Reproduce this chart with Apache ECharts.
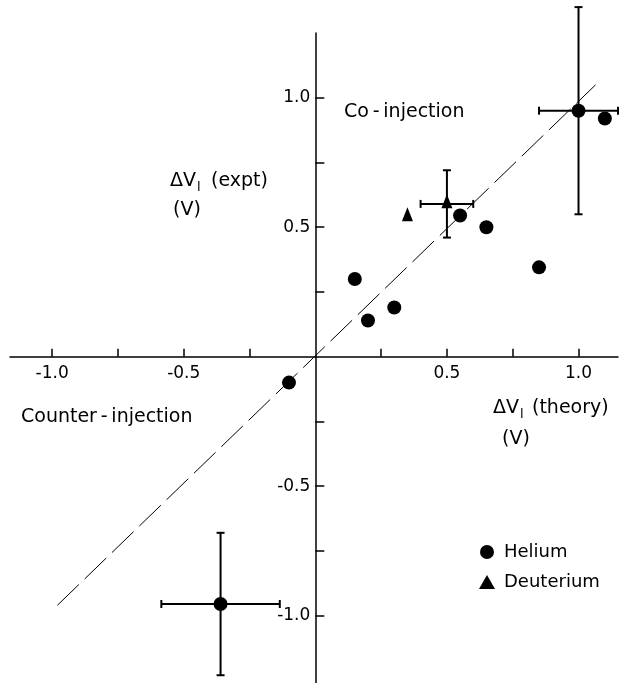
<!DOCTYPE html>
<html>
<head>
<meta charset="utf-8">
<script src="https://cdn.jsdelivr.net/npm/echarts@6/dist/echarts.min.js"></script>
<style>
  html, body { margin: 0; padding: 0; background: #fff; }
  #main { width: 625px; height: 683px; }
</style>
</head>
<body>
<div id="main"></div>
<script>
var chartDom = document.getElementById('main');
var myChart = echarts.init(chartDom);
var option;

// 数据
const heliumX = [0.15, 0.2, 0.3, 0.55, 0.65, 0.85, 1.0, 1.1, -0.1, -0.36];
const heliumY = [0.3, 0.14, 0.19, 0.545, 0.5, 0.345, 0.95, 0.92, -0.1, -0.955];
const deuteriumX = [0.35, 0.5];
const deuteriumY = [0.55, 0.6];
// [x, y, dx, dy]
const errorBars = [
    [1.0, 0.95, 0.15, 0.4],
    [-0.36, -0.955, 0.225, 0.275],
    [0.5, 0.59, 0.1, 0.13]
];
const fitLine = [[-0.98, -0.96], [1.065, 1.05]];
const tickValues = [-1, -0.75, -0.5, -0.25, 0.25, 0.5, 0.75, 1];
const labelValues = [-1, -0.5, 0.5, 1];

const font = 'DejaVu Sans';
const fmt = (v) => v.toFixed(1);
const titleFont = '19px "DejaVu Sans"';

option = {
    backgroundColor: '#fff',
    animation: false,
    textStyle: { fontFamily: font, color: '#000' },
    grid: { left: 10, top: 33, width: 608, height: 650, containLabel: false, outerBoundsMode: 'none' },
    xAxis: {
        type: 'value',
        min: -1.16,
        max: 1.15,
        axisLine: { onZero: true, lineStyle: { color: '#000', width: 1.5 } },
        axisTick: { inside: true, length: 8, customValues: tickValues, lineStyle: { color: '#000', width: 1.5 } },
        axisLabel: { show: false },
        splitLine: { show: false }
    },
    yAxis: {
        type: 'value',
        min: -1.26,
        max: 1.25,
        axisLine: { onZero: true, lineStyle: { color: '#000', width: 1.5 } },
        axisTick: { inside: true, length: 9, customValues: tickValues, lineStyle: { color: '#000', width: 1.5 } },
        axisLabel: { show: false },
        splitLine: { show: false }
    },
    legend: {
        orient: 'vertical',
        left: 474,
        top: 538,
        itemGap: 12,
        itemWidth: 16,
        itemHeight: 14,
        textStyle: { fontSize: 18, fontFamily: font, color: '#000', padding: [0, 0, 0, 4] },
        data: [
            { name: 'Helium', icon: 'circle' },
            { name: 'Deuterium', icon: 'triangle' }
        ]
    },
    series: [
        {
            name: 'fit',
            type: 'line',
            data: fitLine,
            symbol: 'none',
            lineStyle: { color: '#000', width: 1, type: [30, 8] },
            silent: true
        },
        {
            // x 轴刻度标签（跟随零线）
            name: 'xLabels',
            type: 'scatter',
            symbolSize: 0,
            silent: true,
            itemStyle: { opacity: 1 },
            data: labelValues.map((v) => [v, 0]),
            label: {
                show: true, position: 'bottom', distance: 8,
                formatter: (p) => fmt(p.value[0]),
                fontSize: 17, fontFamily: font, color: '#000', opacity: 1
            }
        },
        {
            name: 'yLabels',
            type: 'scatter',
            symbolSize: 0,
            silent: true,
            itemStyle: { opacity: 1 },
            data: labelValues.map((v) => [0, v]),
            label: {
                show: true, position: 'left', distance: 5,
                formatter: (p) => fmt(p.value[1]),
                fontSize: 17, fontFamily: font, color: '#000', opacity: 1
            }
        },
        {
            name: 'errors',
            type: 'custom',
            data: errorBars,
            renderItem: function (params, api) {
                const x = api.value(0), y = api.value(1), dx = api.value(2), dy = api.value(3);
                const l = api.coord([x - dx, y]), r = api.coord([x + dx, y]);
                const t = api.coord([x, y + dy]), b = api.coord([x, y - dy]);
                const c = 4;
                const st = { stroke: '#000', lineWidth: 2 };
                return {
                    type: 'group',
                    children: [
                        { type: 'line', shape: { x1: l[0], y1: l[1], x2: r[0], y2: r[1] }, style: st },
                        { type: 'line', shape: { x1: t[0], y1: t[1], x2: b[0], y2: b[1] }, style: st },
                        { type: 'line', shape: { x1: l[0], y1: l[1] - c, x2: l[0], y2: l[1] + c }, style: st },
                        { type: 'line', shape: { x1: r[0], y1: r[1] - c, x2: r[0], y2: r[1] + c }, style: st },
                        { type: 'line', shape: { x1: t[0] - c, y1: t[1], x2: t[0] + c, y2: t[1] }, style: st },
                        { type: 'line', shape: { x1: b[0] - c, y1: b[1], x2: b[0] + c, y2: b[1] }, style: st }
                    ]
                };
            },
            z: 3
        },
        {
            name: 'Helium',
            type: 'scatter',
            symbol: 'circle',
            symbolSize: 14,
            itemStyle: { color: '#000', opacity: 1 },
            data: heliumX.map((v, i) => [v, heliumY[i]]),
            z: 4
        },
        {
            name: 'Deuterium',
            type: 'scatter',
            symbol: 'triangle',
            symbolSize: [11, 14],
            itemStyle: { color: '#000', opacity: 1 },
            data: deuteriumX.map((v, i) => [v, deuteriumY[i]]),
            z: 4
        }
    ],
    graphic: [
        { type: 'text', left: 344, top: 103, style: { text: 'Co\u2009-\u2009injection', font: titleFont, fill: '#000' } },
        { type: 'text', left: 21, top: 408, style: { text: 'Counter\u2009-\u2009injection', font: titleFont, fill: '#000' } },
        // y 轴标题
        { type: 'text', left: 170, top: 172, style: { text: 'ΔV', font: titleFont, fill: '#000' } },
        { type: 'text', left: 197, top: 181, style: { text: 'l', font: '13px "DejaVu Sans"', fill: '#000' } },
        { type: 'text', left: 211, top: 172, style: { text: '(expt)', font: titleFont, fill: '#000' } },
        { type: 'text', left: 173, top: 201, style: { text: '(V)', font: titleFont, fill: '#000' } },
        // x 轴标题
        { type: 'text', left: 493, top: 399, style: { text: 'ΔV', font: titleFont, fill: '#000' } },
        { type: 'text', left: 520, top: 408, style: { text: 'l', font: '13px "DejaVu Sans"', fill: '#000' } },
        { type: 'text', left: 532, top: 399, style: { text: '(theory)', font: titleFont, fill: '#000' } },
        { type: 'text', left: 502, top: 430, style: { text: '(V)', font: titleFont, fill: '#000' } }
    ]
};

option && myChart.setOption(option);

window.addEventListener('resize', function () {
    myChart.resize();
});
</script>
</body>
</html>
